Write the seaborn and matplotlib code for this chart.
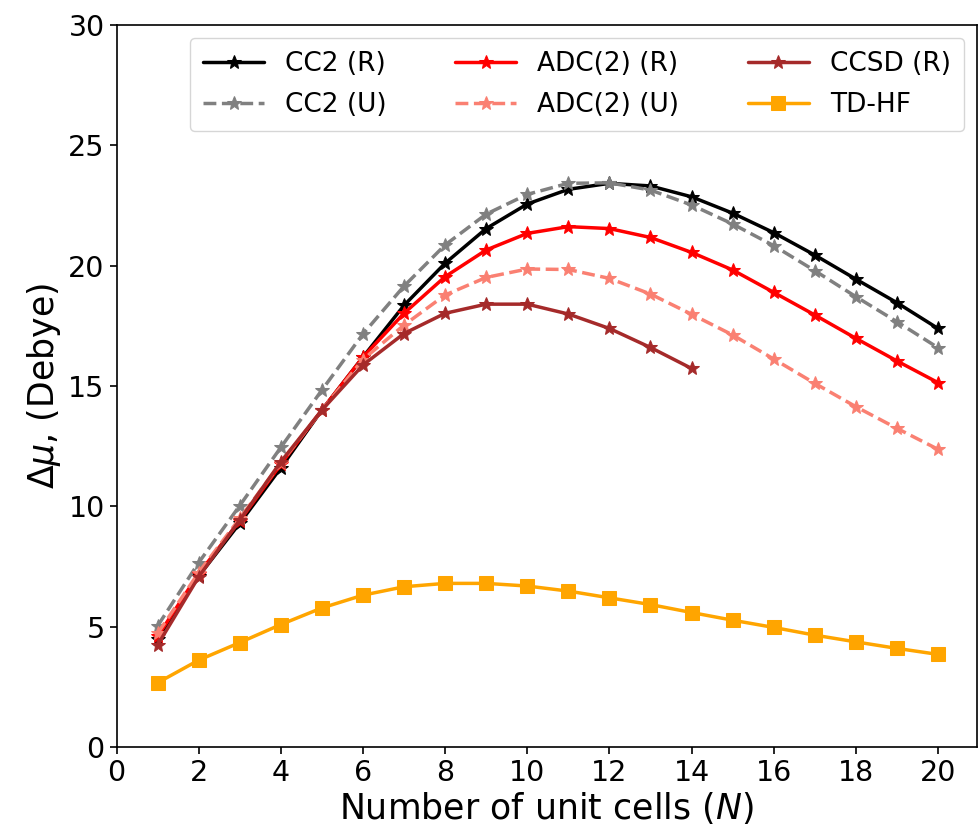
import numpy as np
import pandas as pd
import matplotlib
matplotlib.use("Agg")
import matplotlib.pyplot as plt
import seaborn as sns

N = list(range(1, 21))
N_ccsd = list(range(1, 15))

cc2_r = [4.5, 7.1, 9.3, 11.6, 14.0, 16.2, 18.35, 20.1, 21.54, 22.56, 23.17, 23.42, 23.31, 22.86,
         22.18, 21.37, 20.44, 19.44, 18.46, 17.39]
cc2_u = [5.03, 7.66, 10.03, 12.45, 14.83, 17.16, 19.15, 20.86, 22.14, 22.96, 23.42, 23.44, 23.14, 22.52,
         21.73, 20.83, 19.79, 18.71, 17.67, 16.59]
adc2_r = [4.6, 7.2, 9.4, 11.75, 14.0, 16.2, 18.02, 19.54, 20.65, 21.34, 21.62, 21.54, 21.17, 20.55,
          19.82, 18.89, 17.95, 16.98, 16.04, 15.14]
adc2_u = [4.72, 7.25, 9.5, 11.8, 14.0, 16.1, 17.53, 18.78, 19.51, 19.86, 19.84, 19.47, 18.82, 17.98,
          17.12, 16.12, 15.11, 14.14, 13.24, 12.37]
ccsd_r = [4.24, 7.07, 9.43, 11.85, 14.0, 15.87, 17.18, 18.02, 18.40, 18.40, 17.99, 17.39, 16.60, 15.73]
tdhf = [2.67, 3.61, 4.34, 5.09, 5.78, 6.31, 6.66, 6.80, 6.80, 6.69, 6.48, 6.20, 5.92, 5.59,
        5.27, 4.97, 4.65, 4.37, 4.10, 3.85]

labels = ["CC2 (R)", "CC2 (U)", "ADC(2) (R)", "ADC(2) (U)", "CCSD (R)", "TD-HF"]
xticks = [0, 2, 4, 6, 8, 10, 12, 14, 16, 18, 20]
yticks = [0, 5, 10, 15, 20, 25, 30]

sns.set_style("ticks")
plt.rcParams["font.family"] = ["DejaVu Sans"]
plt.rcParams["mathtext.fontset"] = "dejavusans"
for k in ["text.color", "axes.labelcolor", "xtick.color", "ytick.color", "axes.edgecolor"]:
    plt.rcParams[k] = "black"

fig = plt.figure(figsize=(9.79, 8.31), dpi=100)
ax = fig.add_axes([0.119, 0.101, 0.879, 0.869])

series = [
    (N, cc2_r, labels[0], "black", "-", "*", 10),
    (N, cc2_u, labels[1], "grey", "--", "*", 10),
    (N, adc2_r, labels[2], "red", "-", "*", 10),
    (N, adc2_u, labels[3], "salmon", "--", "*", 10),
    (N_ccsd, ccsd_r, labels[4], "brown", "-", "*", 10),
    (N, tdhf, labels[5], "orange", "-", "s", 9.5),
]
for x, y, lab, col, ls, mk, ms in series:
    df = pd.DataFrame({"N": x, "v": y})
    sns.lineplot(data=df, x="N", y="v", ax=ax, color=col, linestyle=ls, marker=mk,
                 markersize=ms, markeredgecolor=col, linewidth=2.5, label=lab)

ax.set_xlim(0, 20.95)
ax.set_ylim(0, 30)
ax.set_xticks(xticks)
ax.set_yticks(yticks)
ax.tick_params(labelsize=20.5, length=5, width=1.2, colors="black")
for s in ax.spines.values():
    s.set_linewidth(1.2)
    s.set_color("black")
ax.set_xlabel(r"Number of unit cells ($N$)", fontsize=25, labelpad=2)
ax.set_ylabel(r"$\Delta\mu$, (Debye)", fontsize=25)
ax.legend(ncol=3, loc="upper right", fontsize=19, frameon=True, columnspacing=2.6,
          handlelength=2.3, handletextpad=0.8, borderpad=0.5, labelspacing=0.55)

fig.savefig("out.png", dpi=100)
